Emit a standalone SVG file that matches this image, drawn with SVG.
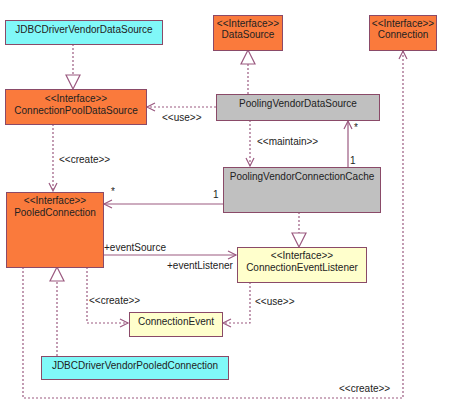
<svg xmlns="http://www.w3.org/2000/svg" width="450" height="418" viewBox="0 0 450 418">
<style>
text{font-family:"Liberation Sans",Arial,sans-serif;font-size:10px;fill:#222}
.c{text-anchor:middle}
.box{stroke:#8a4a68;stroke-width:1}
.cyan{fill:#80f8f8}
.orange{fill:#fa7a3c}
.gray{fill:#c0c0c0}
.yellow{fill:#ffffcc}
.solid{fill:none;stroke:#9b5a80;stroke-width:1.2}
.dash{fill:none;stroke:#9b5a80;stroke-width:1.2;stroke-dasharray:2,2}
.tri{fill:#fff;stroke:#9b5a80;stroke-width:1.2}
.arr{fill:none;stroke:#9b5a80;stroke-width:1.2}
</style>
<rect width="450" height="418" fill="#fff"/>
<g id="connectors">
  <!-- JDBCDriverVendorDataSource realizes ConnectionPoolDataSource -->
  <path class="dash" d="M73,44 V75"/>
  <path class="tri" d="M73,89 L66,75 H80 Z"/>
  <!-- PVDS use CPDS -->
  <path class="dash" d="M216,107 H147"/>
  <path class="arr" d="M155,103 L147,107 L155,111"/>
  <text x="162" y="121">&lt;&lt;use&gt;&gt;</text>
  <!-- PVDS realizes DataSource -->
  <path class="dash" d="M248,94 V64"/>
  <path class="tri" d="M248,50 L241,64 H255 Z"/>
  <!-- CPDS create PooledConnection -->
  <path class="dash" d="M53,124 V191"/>
  <path class="arr" d="M49,183 L53,191 L57,183"/>
  <text x="59" y="163">&lt;&lt;create&gt;&gt;</text>
  <!-- PVDS maintain PVCC -->
  <path class="dash" d="M250,120 V166"/>
  <path class="arr" d="M246,158 L250,166 L254,158"/>
  <text x="257" y="145">&lt;&lt;maintain&gt;&gt;</text>
  <!-- PVCC to PVDS solid -->
  <path class="solid" d="M348,167 V121"/>
  <path class="arr" d="M344,129 L348,121 L352,129"/>
  <text x="354" y="131">*</text>
  <text x="350" y="164">1</text>
  <!-- PVCC to PooledConnection -->
  <path class="solid" d="M223,204 H104"/>
  <path class="arr" d="M112,200 L104,204 L112,208"/>
  <text x="111" y="195">*</text>
  <text x="213" y="198">1</text>
  <!-- PVCC realizes CEL -->
  <path class="dash" d="M299,212 V233"/>
  <path class="tri" d="M299,247 L292,233 H306 Z"/>
  <!-- PooledConnection to CEL -->
  <path class="solid" d="M103,255 H236"/>
  <path class="arr" d="M228,251 L236,255 L228,259"/>
  <text x="104" y="251">+eventSource</text>
  <text x="167" y="269">+eventListener</text>
  <!-- PooledConnection create ConnectionEvent -->
  <path class="dash" d="M87,267 V323 H128"/>
  <path class="arr" d="M120,319 L128,323 L120,327"/>
  <text x="89" y="304">&lt;&lt;create&gt;&gt;</text>
  <!-- CEL use ConnectionEvent -->
  <path class="dash" d="M250,282 V323 H223"/>
  <path class="arr" d="M231,319 L223,323 L231,327"/>
  <text x="255" y="305">&lt;&lt;use&gt;&gt;</text>
  <!-- JDBCDriverVendorPooledConnection realizes PooledConnection -->
  <path class="dash" d="M57,356 V281"/>
  <path class="tri" d="M57,267 L50,281 H64 Z"/>
  <!-- PooledConnection create Connection -->
  <path class="dash" d="M23,267 V398 H403 V51"/>
  <path class="arr" d="M399,59 L403,51 L407,59"/>
  <text x="339" y="392">&lt;&lt;create&gt;&gt;</text>
</g>
<g id="JDBCDriverVendorDataSource">
  <rect class="box cyan" x="5.5" y="20.5" width="157" height="24"/>
  <text class="c" x="84" y="33">JDBCDriverVendorDataSource</text>
</g>
<g id="DataSource">
  <rect class="box orange" x="213.5" y="15.5" width="69" height="35"/>
  <text class="c" x="248" y="27">&lt;&lt;Interface&gt;&gt;</text>
  <text class="c" x="248" y="38">DataSource</text>
</g>
<g id="Connection">
  <rect class="box orange" x="369.5" y="15.5" width="67" height="35"/>
  <text class="c" x="403" y="27">&lt;&lt;Interface&gt;&gt;</text>
  <text class="c" x="403" y="38">Connection</text>
</g>
<g id="ConnectionPoolDataSource">
  <rect class="box orange" x="5.5" y="89.5" width="141" height="35"/>
  <text class="c" x="76" y="102">&lt;&lt;Interface&gt;&gt;</text>
  <text class="c" x="76" y="114">ConnectionPoolDataSource</text>
</g>
<g id="PoolingVendorDataSource">
  <rect class="box gray" x="216.5" y="94.5" width="163" height="26"/>
  <text class="c" x="298" y="107">PoolingVendorDataSource</text>
</g>
<g id="PoolingVendorConnectionCache">
  <rect class="box gray" x="223.5" y="167.5" width="157" height="45"/>
  <text class="c" x="302" y="180">PoolingVendorConnectionCache</text>
</g>
<g id="PooledConnection">
  <rect class="box orange" x="6.5" y="192.5" width="97" height="75"/>
  <text class="c" x="55" y="204">&lt;&lt;Interface&gt;&gt;</text>
  <text class="c" x="55" y="216">PooledConnection</text>
</g>
<g id="ConnectionEventListener">
  <rect class="box yellow" x="237.5" y="247.5" width="129" height="35"/>
  <text class="c" x="302" y="259">&lt;&lt;Interface&gt;&gt;</text>
  <text class="c" x="302" y="271">ConnectionEventListener</text>
</g>
<g id="ConnectionEvent">
  <rect class="box yellow" x="129.5" y="312.5" width="93" height="24"/>
  <text class="c" x="176" y="325">ConnectionEvent</text>
</g>
<g id="JDBCDriverVendorPooledConnection">
  <rect class="box cyan" x="41.5" y="356.5" width="187" height="23"/>
  <text class="c" x="135" y="369">JDBCDriverVendorPooledConnection</text>
</g>
</svg>
